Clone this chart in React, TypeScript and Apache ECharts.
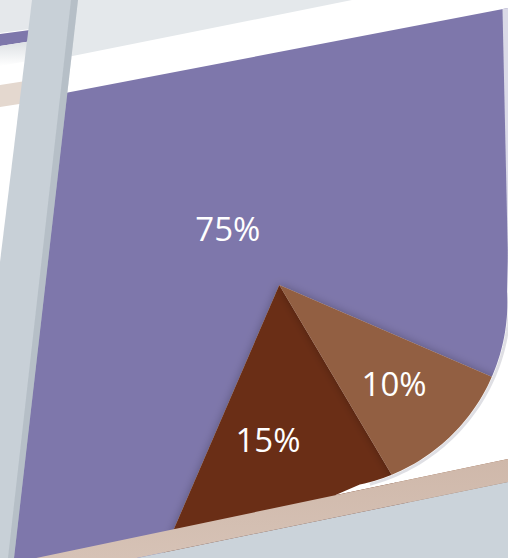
import React, { useEffect, useRef } from "react";
import * as echarts from "echarts";

const SLICE_NAMES = ["Share A", "Share B", "Share C"];
const SLICE_VALUES = [75, 15, 10];
const SLICE_COLORS = ["#7e77ab", "#6a2e13", "#925f43"];

const W = 508;
const H = 558;
const CENTER = [279.3, 285];
const START_ANGLE = 336.64;
// per-label nudges (index order follows SLICE_VALUES)
const LABEL_SHIFT = [
  [5, 86],
  [-21, 2],
  [0, -3],
];

// rounded bottom-right corner of the card (scenery, not data)
const CORNER_C = [321.1, 302.3];
const CORNER_R = 186.3;

function arcPoints(r: number, from: number, to: number, step: number) {
  const pts: number[][] = [];
  for (let a = from; a <= to + 1e-6; a += step) {
    const t = (a * Math.PI) / 180;
    pts.push([CORNER_C[0] + r * Math.cos(t), CORNER_C[1] + r * Math.sin(t)]);
  }
  return pts;
}

export default function App() {
  const ref = useRef<HTMLDivElement>(null);
  useEffect(() => {
    document.body.style.margin = "0";
    const chart = echarts.init(ref.current as HTMLDivElement, null, { renderer: "svg" });
    const data = SLICE_VALUES.map((v, i) => ({
      value: v,
      name: SLICE_NAMES[i],
      itemStyle: { color: SLICE_COLORS[i] },
    }));
    const poly = (points: number[][], fill: any, z: number) => ({
      type: "polygon",
      z,
      silent: true,
      shape: { points },
      style: { fill },
    });
    const arc = arcPoints(CORNER_R, -3, 78, 1.5);
    const corner = [[508, 250], ...arc, [335, 495.3], [508, 459]];
    const shadowLine = arcPoints(CORNER_R + 2, -3, 76, 1.5);
    chart.setOption({
      animation: false,
      backgroundColor: "#ffffff",
      series: [
        {
          type: "pie",
          silent: true,
          center: CENTER,
          radius: 800,
          startAngle: START_ANGLE,
          clockwise: false,
          label: { show: false },
          labelLine: { show: false },
          itemStyle: {
            borderWidth: 0,
            shadowBlur: 10,
            shadowColor: "rgba(30,10,40,0.28)",
          },
          data,
        },
        {
          type: "pie",
          silent: true,
          center: CENTER,
          radius: 300,
          startAngle: START_ANGLE,
          clockwise: false,
          z: 100,
          itemStyle: { color: "rgba(0,0,0,0)", borderWidth: 0 },
          label: {
            show: true,
            position: "inside",
            formatter: "{c}%",
            color: "#ffffff",
            fontSize: 33,
            fontWeight: "normal",
            fontFamily: "'Open Sans', 'Noto Sans', sans-serif",
          },
          labelLine: { show: false },
          labelLayout: (p: any) => ({
            dx: LABEL_SHIFT[p.dataIndex][0],
            dy: LABEL_SHIFT[p.dataIndex][1],
          }),
          data: SLICE_VALUES.map((v, i) => ({ value: v, name: SLICE_NAMES[i] })),
        },
      ],
      graphic: [
        // white band above the card
        poly([[0, 0], [508, 0], [508, 8], [503, 9], [60, 94], [0, 94]], "#ffffff", 50),
        // light textured area at the top
        poly([[60, 0], [352, 0], [60, 58.5]], "#e4e8eb", 51),
        // pale lavender strip at the right
        poly([[502.5, 9], [508, 8], [508, 262]], "#dad9e7", 52),
        // white area outside the rounded corner
        poly(corner, "#ffffff", 53),
        {
          type: "polyline",
          z: 53.5,
          silent: true,
          shape: { points: shadowLine },
          style: { stroke: "rgba(110,110,130,0.22)", lineWidth: 3, fill: null },
        },
        // beige stripe
        poly([[0, 565.6], [508, 459], [508, 482], [0, 586]], {
          type: "linear", x: 0, y: 0, x2: 0, y2: 1,
          colorStops: [
            { offset: 0, color: "#cfb8aa" },
            { offset: 1, color: "#d8c5b9" },
          ],
        }, 54),
        // gray floor
        poly([[508, 482], [508, 558], [137, 558]], "#cbd3da", 55),
        // left area
        poly([[0, 0], [45, 0], [0, 270]], "#ffffff", 56),
        poly([[0, 0], [45, 0], [45, 27], [0, 33]], "#e5e8eb", 57),
        poly([[0, 34], [45, 28], [45, 39], [0, 46]], "#7e77ab", 58),
        poly([[0, 46], [45, 39], [45, 58], [0, 66]], {
          type: "linear", x: 0, y: 0, x2: 0, y2: 1,
          colorStops: [
            { offset: 0, color: "#d9dde1" },
            { offset: 1, color: "#ffffff" },
          ],
        }, 59),
        poly([[0, 85], [45, 78], [45, 100], [0, 107]], "#e4d8cf", 60),
        // gray vertical bar
        poly([[32, 0], [78, 0], [14, 558], [0, 558], [0, 262]], "#c8d0d7", 61),
        poly([[71, 0], [78, 0], [14, 558], [8, 558]], "rgba(150,160,170,0.35)", 62),
      ],
    });
    return () => chart.dispose();
  }, []);
  return <div ref={ref} style={{ width: W, height: H }} />;
}
